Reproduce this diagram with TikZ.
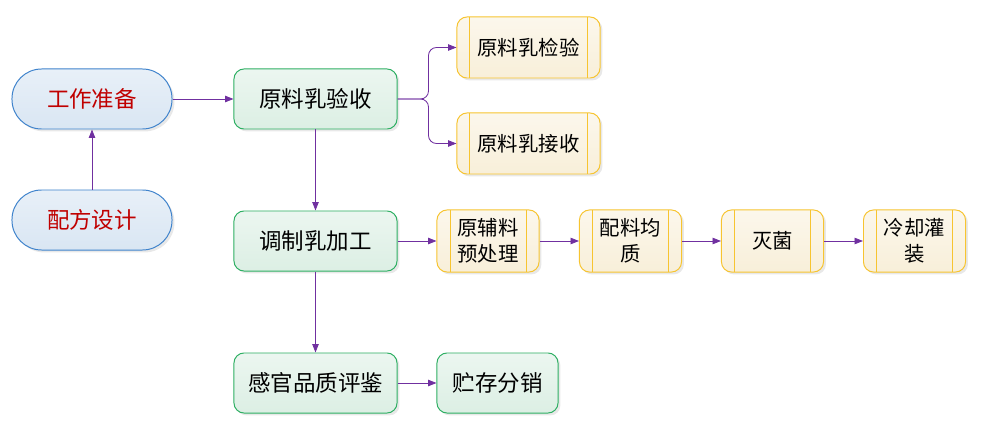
\documentclass[tikz,border=0pt]{standalone}
\usepackage{fontspec}
\setmainfont{Noto Sans CJK SC}
\usepackage{tikz}
\usetikzlibrary{arrows.meta,shadows}
\definecolor{lineviolet}{HTML}{7030A0}
\definecolor{blueedge}{HTML}{3F83CC}
\definecolor{bluefill}{HTML}{D9E6F3}
\definecolor{greenedge}{HTML}{2EAF63}
\definecolor{greenfill}{HTML}{DCEFE4}
\definecolor{yellowedge}{HTML}{F7C430}
\definecolor{yellowfill}{HTML}{F8EFD9}
\definecolor{prepred}{HTML}{C00000}

\begin{document}
\begin{tikzpicture}[x=0.025cm,y=-0.025cm,>={Triangle[length=6pt,width=4.6pt]},
  line/.style={->,draw=lineviolet,line width=0.6pt},
  soft/.style={drop shadow={shadow xshift=0.06cm,shadow yshift=-0.06cm,opacity=0.18,fill=gray}},
  prepbox/.style={soft,draw=blueedge,line width=0.7pt,top color=white!40!bluefill,bottom color=bluefill,
    rounded corners=0.74cm,minimum width=4cm,minimum height=1.5cm,
    text=prepred,font=\fontsize{16}{19}\selectfont},
  stagebox/.style={soft,draw=greenedge,line width=0.7pt,top color=white!45!greenfill,bottom color=greenfill,
    rounded corners=0.25cm,minimum height=1.5cm,font=\fontsize{16}{19}\selectfont},
  procbox/.style={soft,draw=yellowedge,line width=0.7pt,top color=white!50!yellowfill,bottom color=yellowfill,
    rounded corners=0.25cm,align=center,font=\fontsize{14.5}{18.5}\selectfont,
    path picture={\draw[yellowedge,line width=0.7pt]
      ([xshift=0.325cm]path picture bounding box.north west) -- ([xshift=0.325cm]path picture bounding box.south west)
      ([xshift=-0.325cm]path picture bounding box.north east) -- ([xshift=-0.325cm]path picture bounding box.south east);}}]
  \useasboundingbox (0,0) rectangle (989,433);
  % left column
  \node[prepbox] (prep) at (92,99) {工作准备};
  \node[prepbox] (peifang) at (92,220) {配方设计};
  % main stages
  \node[stagebox,minimum width=4.075cm] (yan) at (315.5,99) {原料乳验收};
  \node[stagebox,minimum width=4.075cm] (tiao) at (315.5,241) {调制乳加工};
  \node[stagebox,minimum width=4.075cm] (gan) at (315.5,383) {感官品质评鉴};
  \node[stagebox,minimum width=3.025cm] (zhu) at (497.5,383) {贮存分销};
  % sub steps
  \node[procbox,minimum width=3.575cm,minimum height=1.525cm] (jianyan) at (528.5,47.5) {原料乳检验};
  \node[procbox,minimum width=3.575cm,minimum height=1.525cm] (jieshou) at (528.5,143.5) {原料乳接收};
  \node[procbox,minimum width=2.55cm,minimum height=1.55cm] (fuliao) at (488,241) {原辅料\\预处理};
  \node[procbox,minimum width=2.55cm,minimum height=1.55cm] (junzhi) at (630.5,241) {配料均\\质};
  \node[procbox,minimum width=2.55cm,minimum height=1.55cm] (miejun) at (772.5,241) {灭菌};
  \node[procbox,minimum width=2.55cm,minimum height=1.55cm] (guanzhuang) at (914.5,241) {冷却灌\\装};
  % connectors
  \draw[line] (prep.east) -- (yan.west);
  \draw[line] (peifang.north) -- (prep.south);
  \draw[line] (yan.south) -- (tiao.north);
  \draw[line] (tiao.south) -- (gan.north);
  \draw[line] (gan.east) -- (zhu.west);
  \draw[line,rounded corners=0.2cm] (yan.east) -- ++(31,0) |- (jianyan.west);
  \draw[line,rounded corners=0.2cm] (yan.east) -- ++(31,0) |- (jieshou.west);
  \foreach \a/\b in {tiao/fuliao,fuliao/junzhi,junzhi/miejun,miejun/guanzhuang}
    \draw[line] (\a.east) -- (\b.west);
\end{tikzpicture}
\end{document}
